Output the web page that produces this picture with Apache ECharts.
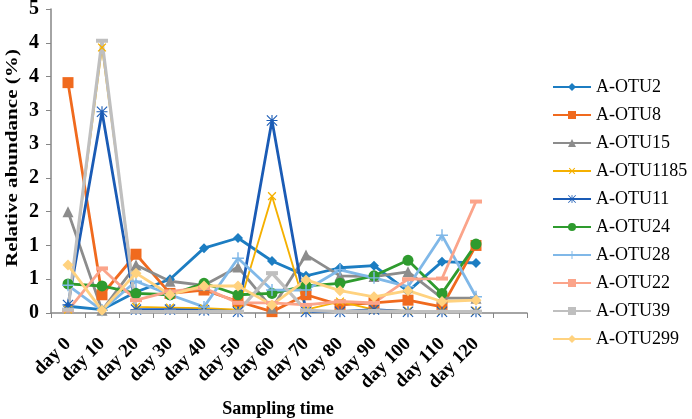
<!DOCTYPE html>
<html><head><meta charset="utf-8">
<script src="https://cdn.jsdelivr.net/npm/echarts@6/dist/echarts.min.js"></script>
<style>html,body{margin:0;padding:0;background:#fff}#c{width:692px;height:419px}</style>
</head><body><div id="c"></div>
<script>
const categories = ['day 0','day 10','day 20','day 30','day 40','day 50','day 60','day 70','day 80','day 90','day 100','day 110','day 120',''];
const seriesNames = ['A-OTU2','A-OTU8','A-OTU15','A-OTU1185','A-OTU11','A-OTU24','A-OTU28','A-OTU22','A-OTU39','A-OTU299'];
const otu2    = [0.10,0.05,0.31,0.50,0.96,1.11,0.77,0.55,0.67,0.70,0.32,0.76,0.74];
const otu8    = [3.41,0.27,0.87,0.29,0.34,0.17,0.02,0.27,0.12,0.15,0.19,0.09,1.00];
const otu15   = [1.50,0.04,0.71,0.47,0.41,0.68,0.07,0.86,0.55,0.54,0.61,0.22,0.22];
const otu1185 = [0.05,3.93,0.09,0.08,0.07,0.05,1.73,0.05,0.17,0.05,0.03,0.03,0.03];
const otu11   = [0.12,2.98,0.05,0.05,0.04,0.02,2.85,0.02,0.02,0.05,0.02,0.02,0.02];
const otu24   = [0.43,0.40,0.29,0.27,0.44,0.27,0.29,0.40,0.44,0.55,0.78,0.29,1.02];
const otu28   = [0.41,0.04,0.47,0.27,0.09,0.81,0.34,0.34,0.64,0.52,0.39,1.15,0.24];
const otu22   = [0.04,0.66,0.19,0.32,0.37,0.15,0.15,0.12,0.17,0.15,0.50,0.51,1.65];
const otu39   = [0.05,4.03,0.02,0.02,0.02,0.02,0.59,0.04,0.02,0.03,0.02,0.02,0.02];
const otu299  = [0.71,0.04,0.59,0.27,0.40,0.40,0.12,0.49,0.33,0.24,0.33,0.17,0.19];
const yTicks = {min:0, max:4.5, interval:0.5};
const yTitle = 'Relative abundance (%)';
const xTitle = 'Sampling time';

const dataList = [otu2,otu8,otu15,otu1185,otu11,otu24,otu28,otu22,otu39,otu299];
const colors = ['#1C7DC2','#F06A1E','#8C8C8C','#F5B000','#1A5BB5','#2E9B2E','#80B8E8','#FBA48A','#BFBFBF','#FFD27F'];
const thinPlus = 'path://M4.4,0h1.2v4.4h4.4v1.2h-4.4v4.4h-1.2v-4.4h-4.4v-1.2h4.4z';
const starPath = 'path://M4.5,0h1v4.5h4.5v1h-4.5v4.5h-1v-4.5h-4.5v-1h4.5zM0.7,0L10,9.3L9.3,10L0,0.7zM9.3,0L10,0.7L0.7,10L0,9.3z';
const dashPath = 'path://M0,0h10v3h-10z';
const symbols = ['diamond','rect','triangle',thinPlus,starPath,'circle',thinPlus,dashPath,dashPath,'diamond'];
const sizes = [10,11,11,11,11,11,12,[12,4],[12,4],11];
const rot = [0,0,0,45,0,0,0,0,0,0];
const widths = [2.8,2.8,2.8,1.8,2.8,2.8,2.8,2.8,3.2,2.8];
const serif = 'Liberation Serif';

const chart = echarts.init(document.getElementById('c'));
const series = seriesNames.map((n,i)=>({
  name:n, type:'line', data:dataList[i], symbol:symbols[i], symbolSize:sizes[i], symbolRotate:rot[i],
  showAllSymbol:true,
  lineStyle:{color:colors[i], width:widths[i]}, itemStyle:{color:colors[i], borderWidth:0},
  emphasis:{disabled:true}, animation:false
}));
chart.setOption({
  animation:false,
  grid:{left:51, right:165, top:9, bottom:106, containLabel:false, outerBoundsMode:'none'},
  legend:{orient:'vertical', left:552, top:78, padding:0, itemWidth:38, itemHeight:10, itemGap:10,
    textStyle:{fontFamily:serif, fontSize:18, color:'#000', lineHeight:18}, data:seriesNames},
  graphic:[{type:'text', x:13, y:158, rotation:Math.PI/2, scaleX:1.24, scaleY:1,
    style:{text:yTitle, fontFamily:serif, fontWeight:'bold', fontSize:17, fill:'#000', align:'center', verticalAlign:'middle'}}],
  xAxis:{type:'category', data:categories, boundaryGap:true,
    axisLine:{lineStyle:{color:'#868686', width:1.5}},
    axisTick:{show:true, length:5, alignWithLabel:false, lineStyle:{color:'#868686'}},
    axisLabel:{rotate:45, interval:0, fontFamily:serif, fontWeight:'bold', fontSize:19, color:'#000', margin:28},
    name:xTitle, nameLocation:'middle', nameGap:87,
    nameTextStyle:{fontFamily:serif, fontWeight:'bold', fontSize:18, color:'#000', padding:[0,22,0,0]}},
  yAxis:{type:'value', min:yTicks.min, max:yTicks.max, interval:yTicks.interval,
    splitLine:{show:false},
    axisLine:{show:true, lineStyle:{color:'#868686', width:1.5}},
    axisTick:{show:true, length:5, lineStyle:{color:'#868686'}},
    axisLabel:{formatter:v=>String(Math.round(v)), fontFamily:serif, fontWeight:'bold', fontSize:20, color:'#000', margin:12}},
  series
});
</script></body></html>
